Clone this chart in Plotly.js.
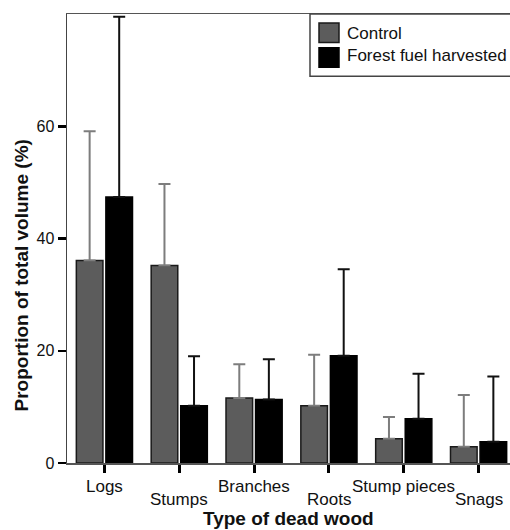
<!DOCTYPE html>
<html>
<head>
<meta charset="utf-8">
<script src="https://cdn.plot.ly/plotly-3.0.1.min.js"></script>
<style>
html,body{margin:0;padding:0;overflow:hidden;background:#fff;}
#chart{width:520px;height:530px;}
</style>
</head>
<body>
<div id="chart"></div>
<script>
// ---- data ----
const categories = ["Logs", "Stumps", "Branches", "Roots", "Stump pieces", "Snags"];
const seriesNames = ["Control", "Forest fuel harvested"];
const controlValues = [36.1, 35.2, 11.6, 10.2, 4.3, 2.9];
const controlErrors = [23.0, 14.5, 6.0, 9.1, 3.9, 9.2];
const harvestedValues = [47.4, 10.2, 11.3, 19.1, 7.9, 3.8];
const harvestedErrors = [32.1, 8.8, 7.2, 15.4, 8.0, 11.6];
const yTickValues = [0, 20, 40, 60];
const xTitle = "Type of dead wood";
const yTitle = "Proportion of total volume (%)";

const FONT = "Liberation Sans, Arial, Helvetica, sans-serif";
const idx = categories.map((c, i) => i);

const traces = [
  {
    type: "bar", name: seriesNames[0], x: idx, y: controlValues,
    marker: {color: "#5c5c5c", line: {color: "#1a1a1a", width: 1.5}},
    error_y: {type: "data", array: controlErrors, symmetric: false,
              arrayminus: controlErrors.map(() => 0),
              color: "#7d7d7d", thickness: 2, width: 6},
    showlegend: false, hoverinfo: "skip"
  },
  {
    type: "bar", name: seriesNames[1], x: idx, y: harvestedValues,
    marker: {color: "#000000", line: {color: "#000000", width: 1.5}},
    error_y: {type: "data", array: harvestedErrors, symmetric: false,
              arrayminus: harvestedErrors.map(() => 0),
              color: "#111111", thickness: 2, width: 6},
    showlegend: false, hoverinfo: "skip"
  }
];

// staggered category labels
const annotations = categories.map((c, i) => ({
  x: i, xref: "x", y: 0, yref: "paper",
  text: c, showarrow: false, xanchor: "center", yanchor: "middle",
  yshift: (i % 2 === 0) ? -23 : -36,
  font: {family: FONT, size: 17, color: "#111"}
}));
annotations.push({
  x: (288.5 - 67) / 449, xref: "paper", y: 0, yref: "paper",
  text: "<b>" + xTitle + "</b>", showarrow: false,
  xanchor: "center", yanchor: "middle", yshift: -55,
  font: {family: FONT, size: 19, color: "#111"}
});
annotations.push({
  x: 0, xref: "paper", xshift: -45.5, y: (463.3 - 276) / 449.6, yref: "paper",
  text: "<b>" + yTitle + "</b>", showarrow: false, textangle: -90,
  xanchor: "center", yanchor: "middle",
  font: {family: FONT, size: 19, color: "#111"}
});
// legend texts
const legendY = [(463.3 - 33.5) / 449.6, (463.3 - 55) / 449.6];
seriesNames.forEach((n, i) => annotations.push({
  x: (345 - 67) / 449, xref: "paper", y: legendY[i], yref: "paper",
  text: n, showarrow: false, xanchor: "left", yanchor: "middle",
  font: {family: FONT, size: 17, color: "#111"}
}));

const px = v => (v - 67) / 449;
const py = v => (463.3 - v) / 449.6;
const shapes = [
  {type: "rect", xref: "paper", yref: "paper", x0: px(310), x1: 1.2, y0: py(76), y1: 1,
   line: {color: "#444", width: 1.5}, fillcolor: "#fff", layer: "above"},
  {type: "rect", xref: "paper", yref: "paper", x0: px(319), x1: px(339), y0: py(42.3), y1: py(22.7),
   line: {color: "#1a1a1a", width: 1.5}, fillcolor: "#5c5c5c", layer: "above"},
  {type: "rect", xref: "paper", yref: "paper", x0: px(319), x1: px(339), y0: py(67), y1: py(47.5),
   line: {color: "#000", width: 1.5}, fillcolor: "#000", layer: "above"}
];

const layout = {
  width: 520, height: 530,
  margin: {l: 67, r: 4, t: 14, b: 67, pad: 0},
  paper_bgcolor: "#fff", plot_bgcolor: "#fff",
  barmode: "group", bargap: 0.21, bargroupgap: 0.1,
  showlegend: false,
  font: {family: FONT, size: 16, color: "#111"},
  xaxis: {
    range: [-0.5, 5.5], tickvals: idx, ticktext: categories, showticklabels: false,
    ticks: "outside", ticklen: 8, tickwidth: 3, tickcolor: "#000",
    showline: true, linecolor: "#555", linewidth: 1.5, mirror: true,
    showgrid: false, zeroline: false, fixedrange: true
  },
  yaxis: {
    range: [0, 80], tickvals: yTickValues,
    ticks: "outside", ticklen: 8, tickwidth: 2.5, tickcolor: "#000",
    tickfont: {family: FONT, size: 16, color: "#111"},
    showline: true, linecolor: "#444", linewidth: 1.5,
    showgrid: false, zeroline: false, fixedrange: true
  },
  annotations: annotations,
  shapes: shapes
};

Plotly.newPlot("chart", traces, layout, {displayModeBar: false, staticPlot: true});
</script>
</body>
</html>
